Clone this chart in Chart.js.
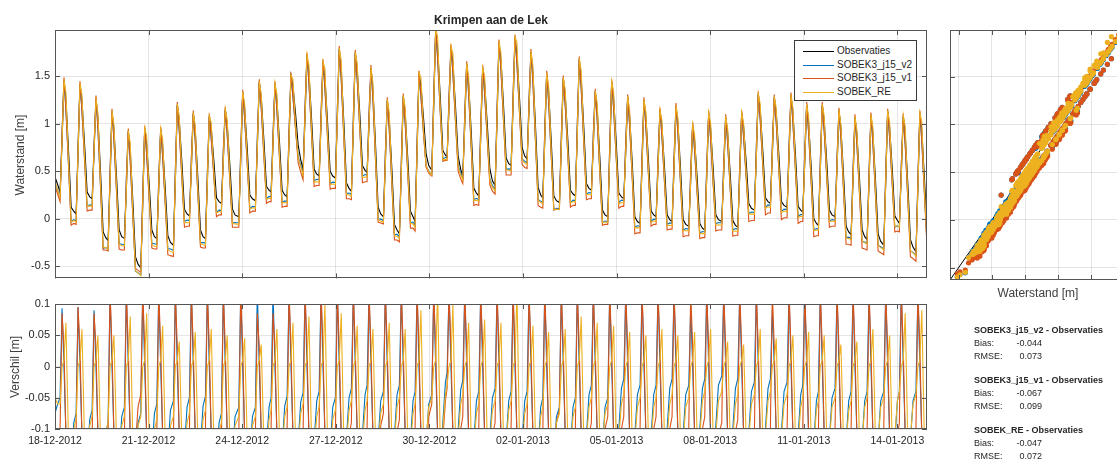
<!DOCTYPE html>
<html>
<head>
<meta charset="utf-8">
<script src="https://cdn.jsdelivr.net/npm/chart.js@4.4.1/dist/chart.umd.min.js"></script>
<style>
  html, body { margin: 0; padding: 0; background: #fff; }
  body { width: 1117px; height: 459px; overflow: hidden; position: relative; font-family: "Liberation Sans", Arial, sans-serif; color: #262626; }
  canvas { position: absolute; }
  #levelCanvas { left: 0; top: 0; }
  #diffCanvas { left: 0; top: 290px; }
  #scatterCanvas { left: 940px; top: 0; }
  .title { position: absolute; left: 55px; width: 872px; top: 13px; text-align: center; font-weight: bold; font-size: 12px; }
  .axlab { position: absolute; font-size: 12px; color: #404040; white-space: nowrap; transform: translate(-50%, -50%); }
  .axlab.rot { transform: translate(-50%, -50%) rotate(-90deg); }
  #legend { position: absolute; left: 794px; top: 40px; width: 121px; height: 59px; border: 1px solid #3a3a3a; background: #fff; font-size: 10px; }
  #legend .row { position: absolute; left: 0; height: 12px; line-height: 12px; width: 100%; }
  #legend .swatch { position: absolute; left: 8px; top: 6px; width: 31px; height: 1px; }
  #legend .lbl { position: absolute; left: 42px; top: 0; white-space: nowrap; }
  .stat { position: absolute; font-size: 9px; line-height: 10px; white-space: nowrap; }
  .stat.head { font-weight: bold; }
  .stat.val { text-align: right; width: 40px; }
</style>
</head>
<body>
<canvas id="levelCanvas" width="935" height="290" style="width:935px;height:290px"></canvas>
<canvas id="diffCanvas" width="935" height="169" style="width:935px;height:169px"></canvas>
<canvas id="scatterCanvas" width="190" height="290" style="width:190px;height:290px"></canvas>
<div class="title">Krimpen aan de Lek</div>
<div class="axlab rot" style="left:20px;top:155px">Waterstand [m]</div>
<div class="axlab rot" style="left:15px;top:367px">Verschil [m]</div>
<div class="axlab" style="left:1038px;top:293px">Waterstand [m]</div>
<div id="legend"></div>
<div id="stats"></div>
<script>
// time axis: days since 18-12-2012 00:00
const dayMax = 27.95;
const dateTickDays = [0, 3, 6, 9, 12, 15, 18, 21, 24, 27];
const dateLabels = ["18-12-2012", "21-12-2012", "24-12-2012", "27-12-2012", "30-12-2012",
  "02-01-2013", "05-01-2013", "08-01-2013", "11-01-2013", "14-01-2013"];
const levelMin = -0.63, levelMax = 1.99;
const levelTicks = [-0.5, 0, 0.5, 1, 1.5];
const diffTicks = [-0.1, -0.05, 0, 0.05, 0.1];

// one row per tide: high-water time (days), samples at these hours around it
const hourOffsets = [-3.0, -1.5, 0, 1.5, 3.5, 5.5, 7.5];
const peakDays = [-0.229, 0.288, 0.801, 1.314, 1.827, 2.349, 2.875, 3.388, 3.920, 4.433, 4.946,
  5.458, 6.016, 6.548, 7.051, 7.564, 8.077, 8.590, 9.112, 9.625, 10.128, 10.651, 11.163, 11.667,
  12.202, 12.692, 13.196, 13.708, 14.231, 14.744, 15.256, 15.760, 16.292, 16.804, 17.317, 17.843,
  18.356, 18.878, 19.391, 19.904, 20.439, 20.952, 21.497, 22.010, 22.542, 23.055, 23.590, 24.093,
  24.593, 25.128, 25.641, 26.154, 26.689, 27.189, 27.721];

// observed water level [m]
const obsLevels = [
  [0.30, 0.85, 1.40, 1.22, 0.80, 0.44, 0.36], [0.28, 0.81, 1.46, 1.26, 0.72, 0.12, 0.08],
  [0.05, 0.67, 1.42, 1.25, 0.79, 0.28, 0.23], [0.21, 0.69, 1.27, 1.06, 0.49, -0.14, -0.20],
  [-0.23, 0.38, 1.13, 0.94, 0.44, -0.12, -0.19], [-0.21, 0.30, 0.92, 0.72, 0.19, -0.40, -0.48],
  [-0.52, 0.14, 0.95, 0.79, 0.36, -0.12, -0.19], [-0.21, 0.31, 0.94, 0.77, 0.32, -0.18, -0.25],
  [-0.28, 0.39, 1.20, 1.04, 0.60, 0.10, 0.05], [0.03, 0.52, 1.11, 0.93, 0.43, -0.12, -0.19],
  [-0.21, 0.37, 1.08, 0.95, 0.61, 0.22, 0.18], [0.16, 0.61, 1.15, 0.99, 0.57, 0.10, 0.04],
  [0.02, 0.61, 1.33, 1.17, 0.74, 0.25, 0.21], [0.19, 0.75, 1.44, 1.28, 0.84, 0.34, 0.30],
  [0.28, 0.79, 1.42, 1.25, 0.80, 0.30, 0.25], [0.23, 0.81, 1.51, 1.40, 1.11, 0.78, 0.62],
  [0.52, 1.06, 1.72, 1.54, 1.06, 0.52, 0.47], [0.45, 0.99, 1.65, 1.48, 1.02, 0.50, 0.45],
  [0.43, 1.04, 1.79, 1.58, 1.02, 0.38, 0.32], [0.29, 0.95, 1.75, 1.57, 1.10, 0.56, 0.51],
  [0.49, 0.99, 1.59, 1.37, 0.78, 0.12, 0.05], [0.02, 0.57, 1.25, 1.05, 0.53, -0.06, -0.12],
  [-0.16, 0.49, 1.29, 1.11, 0.63, 0.08, 0.02], [-0.03, 0.67, 1.53, 1.40, 1.06, 0.68, 0.56],
  [0.51, 1.18, 1.99, 1.80, 1.29, 0.72, 0.67], [0.65, 1.17, 1.81, 1.64, 1.18, 0.66, 0.52],
  [0.45, 0.98, 1.63, 1.43, 0.91, 0.32, 0.27], [0.24, 0.85, 1.59, 1.43, 1.01, 0.53, 0.40],
  [0.35, 1.03, 1.86, 1.68, 1.19, 0.64, 0.58], [0.56, 1.17, 1.91, 1.74, 1.27, 0.75, 0.66],
  [0.63, 1.14, 1.76, 1.55, 0.97, 0.33, 0.25], [0.22, 0.81, 1.53, 1.34, 0.82, 0.24, 0.19],
  [0.17, 0.76, 1.48, 1.30, 0.83, 0.30, 0.26], [0.24, 0.89, 1.68, 1.48, 0.96, 0.37, 0.32],
  [0.30, 0.77, 1.34, 1.15, 0.65, 0.09, 0.04], [0.02, 0.66, 1.44, 1.27, 0.80, 0.27, 0.23],
  [0.21, 0.69, 1.28, 1.09, 0.59, 0.02, -0.03], [-0.05, 0.54, 1.25, 1.07, 0.61, 0.08, 0.04],
  [0.02, 0.52, 1.14, 0.98, 0.54, 0.04, -0.01], [-0.03, 0.52, 1.19, 1.01, 0.53, -0.01, -0.06],
  [-0.08, 0.40, 0.99, 0.83, 0.42, -0.05, -0.10], [-0.12, 0.43, 1.11, 0.95, 0.52, 0.04, -0.01],
  [-0.03, 0.47, 1.07, 0.91, 0.47, -0.02, -0.07], [-0.09, 0.45, 1.11, 0.97, 0.59, 0.16, 0.11],
  [0.09, 0.64, 1.31, 1.15, 0.71, 0.22, 0.18], [0.16, 0.66, 1.28, 1.12, 0.68, 0.18, 0.14],
  [0.12, 0.65, 1.30, 1.12, 0.66, 0.13, 0.09], [0.07, 0.58, 1.20, 1.02, 0.54, 0.00, -0.05],
  [-0.07, 0.50, 1.20, 1.03, 0.59, 0.09, 0.04], [0.02, 0.52, 1.14, 0.96, 0.47, -0.08, -0.14],
  [-0.17, 0.39, 1.07, 0.89, 0.42, -0.12, -0.19], [-0.22, 0.37, 1.09, 0.90, 0.40, -0.16, -0.24],
  [-0.28, 0.36, 1.13, 0.97, 0.53, 0.03, -0.02], [-0.05, 0.46, 1.08, 0.89, 0.37, -0.22, -0.30],
  [-0.35, 0.31, 1.11, 0.93, 0.43, -0.12, -0.20]
];

// model minus observation [m], same samples
const diffV2 = [
  [-0.05, 0.12, 0, -0.11, -0.15, -0.075, -0.06], [-0.05, 0.093, 0, -0.11, -0.15, -0.155, -0.09],
  [-0.075, 0.095, 0, -0.11, -0.15, -0.15, -0.085], [-0.07, 0.09, 0, -0.11, -0.15, -0.17, -0.105],
  [-0.09, 0.12, 0, -0.11, -0.15, -0.145, -0.08], [-0.065, 0.12, 0, -0.11, -0.15, -0.155, -0.09],
  [-0.075, 0.12, 0, -0.11, -0.15, -0.14, -0.075], [-0.06, 0.12, 0, -0.11, -0.15, -0.135, -0.07],
  [-0.055, 0.12, 0, -0.11, -0.15, -0.13, -0.065], [-0.05, 0.12, 0, -0.11, -0.15, -0.128, -0.063],
  [-0.048, 0.12, 0, -0.11, -0.15, -0.155, -0.09], [-0.075, 0.12, 0, -0.11, -0.15, -0.145, -0.08],
  [-0.065, 0.12, 0, -0.11, -0.15, -0.145, -0.08], [-0.065, 0.12, 0, -0.11, -0.15, -0.13, -0.065],
  [-0.05, 0.12, 0, -0.11, -0.15, -0.128, -0.063], [-0.048, 0.12, 0, -0.11, -0.15, -0.122, -0.057],
  [-0.042, 0.12, 0, -0.11, -0.15, -0.12, -0.055], [-0.04, 0.12, 0, -0.11, -0.15, -0.13, -0.065],
  [-0.05, 0.12, 0, -0.11, -0.15, -0.115, -0.05], [-0.035, 0.12, 0, -0.11, -0.15, -0.11, -0.045],
  [-0.03, 0.12, 0, -0.11, -0.15, -0.12, -0.055], [-0.04, 0.12, 0, -0.11, -0.15, -0.11, -0.045],
  [-0.03, 0.12, 0, -0.11, -0.15, -0.12, -0.055], [-0.04, 0.12, 0, -0.11, -0.15, -0.125, -0.06],
  [-0.045, 0.12, 0, -0.11, -0.15, -0.09, -0.025], [-0.01, 0.12, 0, -0.11, -0.15, -0.102, -0.037],
  [-0.022, 0.12, 0, -0.11, -0.15, -0.12, -0.055], [-0.04, 0.12, 0, -0.11, -0.15, -0.115, -0.05],
  [-0.035, 0.12, 0, -0.11, -0.15, -0.12, -0.055], [-0.04, 0.12, 0, -0.11, -0.15, -0.12, -0.055],
  [-0.04, 0.12, 0, -0.11, -0.15, -0.13, -0.065], [-0.05, 0.12, 0, -0.11, -0.15, -0.145, -0.08],
  [-0.065, 0.12, 0, -0.11, -0.15, -0.13, -0.065], [-0.05, 0.12, 0, -0.11, -0.15, -0.11, -0.045],
  [-0.03, 0.12, 0, -0.11, -0.15, -0.13, -0.065], [-0.05, 0.12, 0, -0.11, -0.15, -0.10, -0.035],
  [-0.02, 0.12, 0, -0.11, -0.15, -0.11, -0.045], [-0.03, 0.12, 0, -0.11, -0.15, -0.11, -0.045],
  [-0.03, 0.12, 0, -0.11, -0.15, -0.10, -0.035], [-0.02, 0.12, 0, -0.11, -0.15, -0.11, -0.045],
  [-0.03, 0.095, 0, -0.11, -0.15, -0.10, -0.035], [-0.02, 0.12, 0, -0.11, -0.15, -0.095, -0.03],
  [-0.015, 0.12, 0, -0.11, -0.15, -0.10, -0.035], [-0.02, 0.12, 0, -0.11, -0.15, -0.105, -0.04],
  [-0.025, 0.12, 0, -0.11, -0.15, -0.10, -0.035], [-0.02, 0.09, 0, -0.11, -0.15, -0.105, -0.04],
  [-0.025, 0.12, 0, -0.11, -0.15, -0.11, -0.045], [-0.03, 0.12, 0, -0.11, -0.15, -0.12, -0.055],
  [-0.04, 0.12, 0, -0.11, -0.15, -0.115, -0.05], [-0.035, 0.12, 0, -0.11, -0.15, -0.12, -0.055],
  [-0.04, 0.12, 0, -0.11, -0.15, -0.12, -0.055], [-0.04, 0.12, 0, -0.11, -0.15, -0.12, -0.055],
  [-0.04, 0.12, 0, -0.11, -0.15, -0.12, -0.055], [-0.04, 0.12, 0, -0.11, -0.15, -0.12, -0.055],
  [-0.04, 0.12, 0, -0.11, -0.15, -0.13, -0.065]
];
const diffV1 = [
  [-0.10, 0.12, 0.03, -0.11, -0.17, -0.10, -0.10], [-0.10, 0.085, 0.03, -0.11, -0.17, -0.19, -0.13],
  [-0.11, 0.095, 0.03, -0.11, -0.17, -0.20, -0.14], [-0.12, 0.085, 0.03, -0.11, -0.17, -0.19, -0.13],
  [-0.11, 0.12, 0.03, -0.11, -0.17, -0.20, -0.14], [-0.12, 0.12, 0.03, -0.11, -0.17, -0.125, -0.065],
  [-0.045, 0.12, 0.03, -0.11, -0.17, -0.19, -0.13], [-0.11, 0.12, 0.03, -0.11, -0.17, -0.20, -0.14],
  [-0.12, 0.12, 0.03, -0.11, -0.17, -0.19, -0.13], [-0.11, 0.12, 0.03, -0.11, -0.17, -0.18, -0.12],
  [-0.10, 0.12, 0.03, -0.11, -0.17, -0.20, -0.14], [-0.12, 0.12, 0.03, -0.11, -0.17, -0.19, -0.13],
  [-0.11, 0.12, 0.03, -0.11, -0.17, -0.19, -0.13], [-0.11, 0.085, 0.03, -0.11, -0.17, -0.18, -0.12],
  [-0.10, 0.085, 0.03, -0.11, -0.17, -0.18, -0.12], [-0.10, 0.12, 0.03, -0.11, -0.17, -0.19, -0.13],
  [-0.11, 0.12, 0.03, -0.11, -0.17, -0.18, -0.12], [-0.10, 0.12, 0.03, -0.11, -0.17, -0.19, -0.13],
  [-0.11, 0.12, 0.03, -0.11, -0.17, -0.17, -0.11], [-0.09, 0.12, 0.03, -0.11, -0.17, -0.18, -0.12],
  [-0.10, 0.12, 0.03, -0.11, -0.17, -0.155, -0.095], [-0.075, 0.12, 0.03, -0.11, -0.17, -0.165, -0.105],
  [-0.085, 0.12, 0.03, -0.11, -0.17, -0.18, -0.12], [-0.10, 0.12, 0.03, -0.11, -0.17, -0.14, -0.08],
  [-0.06, 0.12, 0.03, -0.11, -0.17, -0.115, -0.055], [-0.035, 0.12, 0.03, -0.11, -0.17, -0.16, -0.10],
  [-0.08, 0.12, 0.03, -0.11, -0.17, -0.18, -0.12], [-0.10, 0.12, 0.03, -0.11, -0.17, -0.17, -0.11],
  [-0.09, 0.12, 0.03, -0.11, -0.17, -0.18, -0.12], [-0.10, 0.12, 0.03, -0.11, -0.17, -0.18, -0.12],
  [-0.10, 0.12, 0.03, -0.11, -0.17, -0.19, -0.13], [-0.11, 0.12, 0.03, -0.11, -0.17, -0.15, -0.09],
  [-0.07, 0.12, 0.03, -0.11, -0.17, -0.18, -0.12], [-0.10, 0.12, 0.03, -0.11, -0.17, -0.17, -0.11],
  [-0.09, 0.12, 0.03, -0.11, -0.17, -0.16, -0.10], [-0.08, 0.12, 0.03, -0.11, -0.17, -0.16, -0.10],
  [-0.08, 0.12, 0.03, -0.11, -0.17, -0.18, -0.12], [-0.10, 0.12, 0.03, -0.11, -0.17, -0.16, -0.10],
  [-0.08, 0.12, 0.03, -0.11, -0.17, -0.16, -0.10], [-0.08, 0.12, 0.03, -0.11, -0.17, -0.18, -0.12],
  [-0.10, 0.12, 0.03, -0.11, -0.17, -0.16, -0.10], [-0.08, 0.12, 0.03, -0.11, -0.17, -0.17, -0.11],
  [-0.09, 0.12, 0.03, -0.11, -0.17, -0.165, -0.105], [-0.085, 0.12, 0.03, -0.11, -0.17, -0.19, -0.13],
  [-0.11, 0.12, 0.03, -0.11, -0.17, -0.18, -0.12], [-0.10, 0.12, 0.03, -0.11, -0.17, -0.19, -0.13],
  [-0.11, 0.12, 0.03, -0.11, -0.17, -0.18, -0.12], [-0.10, 0.12, 0.03, -0.11, -0.17, -0.19, -0.13],
  [-0.11, 0.12, 0.03, -0.11, -0.17, -0.18, -0.12], [-0.10, 0.12, 0.03, -0.11, -0.17, -0.19, -0.13],
  [-0.11, 0.12, 0.03, -0.11, -0.17, -0.19, -0.13], [-0.11, 0.12, 0.03, -0.11, -0.17, -0.18, -0.12],
  [-0.10, 0.12, 0.03, -0.11, -0.17, -0.17, -0.11], [-0.09, 0.12, 0.03, -0.11, -0.17, -0.18, -0.12],
  [-0.10, 0.12, 0.03, -0.11, -0.17, -0.18, -0.12]
];
const diffRE = [
  [-0.06, 0, 0.01, 0.07, -0.12, -0.05, -0.06], [-0.06, 0, 0.01, 0.07, -0.12, -0.155, -0.10],
  [-0.085, 0, 0.01, 0.06, -0.12, -0.15, -0.095], [-0.08, 0, 0.01, 0.05, -0.12, -0.16, -0.105],
  [-0.09, 0, 0.01, 0.05, -0.12, -0.15, -0.095], [-0.08, 0, 0.01, 0.08, -0.12, -0.15, -0.095],
  [-0.08, 0, 0.01, 0.085, -0.12, -0.155, -0.10], [-0.085, 0, 0.01, 0.065, -0.12, -0.15, -0.095],
  [-0.08, 0, 0.01, 0.04, -0.12, -0.145, -0.09], [-0.075, 0, 0.01, 0.055, -0.12, -0.14, -0.085],
  [-0.07, 0, 0.01, 0.06, -0.12, -0.16, -0.105], [-0.09, 0, 0.01, 0.05, -0.12, -0.15, -0.095],
  [-0.08, 0, 0.01, 0.045, -0.12, -0.15, -0.095], [-0.08, 0, 0.01, 0.035, -0.12, -0.14, -0.085],
  [-0.07, 0, 0.01, 0.06, -0.12, -0.135, -0.08], [-0.065, 0, 0.01, 0.07, -0.12, -0.13, -0.075],
  [-0.06, 0, 0.01, 0.08, -0.12, -0.135, -0.08], [-0.065, 0, 0.01, 0.10, -0.12, -0.14, -0.085],
  [-0.07, 0, 0.01, 0.085, -0.12, -0.125, -0.07], [-0.055, 0, 0.01, 0.065, -0.12, -0.125, -0.07],
  [-0.055, 0, 0.01, 0.06, -0.12, -0.13, -0.075], [-0.06, 0, 0.01, 0.07, -0.12, -0.12, -0.065],
  [-0.05, 0, 0.01, 0.06, -0.12, -0.13, -0.075], [-0.06, 0, 0.01, 0.09, -0.12, -0.12, -0.065],
  [-0.05, 0, 0.01, 0.12, -0.12, -0.10, -0.045], [-0.03, 0, 0.01, 0.10, -0.12, -0.115, -0.06],
  [-0.045, 0, 0.01, 0.07, -0.12, -0.13, -0.075], [-0.06, 0, 0.01, 0.075, -0.12, -0.125, -0.07],
  [-0.055, 0, 0.01, 0.07, -0.12, -0.125, -0.07], [-0.055, 0, 0.01, 0.12, -0.12, -0.13, -0.075],
  [-0.06, 0, 0.01, 0.065, -0.12, -0.135, -0.08], [-0.065, 0, 0.01, 0.055, -0.12, -0.145, -0.09],
  [-0.075, 0, 0.01, 0.06, -0.12, -0.135, -0.08], [-0.065, 0, 0.01, 0.08, -0.12, -0.12, -0.065],
  [-0.05, 0, 0.01, 0.07, -0.12, -0.13, -0.075], [-0.06, 0, 0.01, 0.065, -0.12, -0.115, -0.06],
  [-0.045, 0, 0.01, 0.055, -0.12, -0.12, -0.065], [-0.05, 0, 0.01, 0.05, -0.12, -0.12, -0.065],
  [-0.05, 0, 0.01, 0.06, -0.12, -0.115, -0.06], [-0.045, 0, 0.01, 0.05, -0.12, -0.12, -0.065],
  [-0.05, 0, 0.01, 0.055, -0.12, -0.11, -0.055], [-0.04, 0, 0.01, 0.06, -0.12, -0.11, -0.055],
  [-0.04, 0, 0.01, 0.04, -0.12, -0.115, -0.06], [-0.045, 0, 0.01, 0.035, -0.12, -0.115, -0.06],
  [-0.045, 0, 0.01, 0.06, -0.12, -0.11, -0.055], [-0.04, 0, 0.01, 0.045, -0.12, -0.115, -0.06],
  [-0.045, 0, 0.01, 0.05, -0.12, -0.12, -0.065], [-0.05, 0, 0.01, 0.055, -0.12, -0.125, -0.07],
  [-0.055, 0, 0.01, 0.05, -0.12, -0.12, -0.065], [-0.05, 0, 0.01, 0.035, -0.12, -0.125, -0.07],
  [-0.055, 0, 0.01, 0.04, -0.12, -0.12, -0.065], [-0.05, 0, 0.01, 0.06, -0.12, -0.12, -0.065],
  [-0.05, 0, 0.01, 0.05, -0.12, -0.11, -0.055], [-0.04, 0, 0.01, 0.085, -0.12, -0.115, -0.06],
  [-0.045, 0, 0.01, 0.09, -0.12, -0.12, -0.065]
];

const obsName = "Observaties";
const modelNames = ["SOBEK3_j15_v2", "SOBEK3_j15_v1", "SOBEK_RE"];
const biasValues = ["-0.044", "-0.067", "-0.047"];
const rmseValues = ["0.073", "0.099", "0.072"];

const OBS_COLOR = "#000000";
const MODEL_COLORS = ["#0072BD", "#D95319", "#EDB120"];
const GRID_COLOR = "rgba(38,38,38,0.12)";
const AXIS_COLOR = "#555555";
const TEXT_COLOR = "#262626";

const models = [
  { name: modelNames[0], diff: diffV2, color: MODEL_COLORS[0], order: 3 },
  { name: modelNames[1], diff: diffV1, color: MODEL_COLORS[1], order: 2 },
  { name: modelNames[2], diff: diffRE, color: MODEL_COLORS[2], order: 1 },
];

function eachSample(fn) {
  const out = [];
  peakDays.forEach((p, i) => hourOffsets.forEach((h, k) => out.push(fn(p + h / 24, i, k))));
  return out;
}
const obsPoints = eachSample((t, i, k) => ({ x: t, y: obsLevels[i][k] }));
const modelPoints = (d) => eachSample((t, i, k) => ({ x: t, y: obsLevels[i][k] + d[i][k] }));
const diffPoints = (d) => eachSample((t, i, k) => ({ x: t, y: d[i][k] }));
const scatterPoints = (d) => eachSample((t, i, k) => ({ x: obsLevels[i][k], y: obsLevels[i][k] + d[i][k] }));

Chart.defaults.font.family = "'Liberation Sans', Arial, sans-serif";
Chart.defaults.color = TEXT_COLOR;

// box with inward tick marks on all four sides
const boxTicks = {
  id: "boxTicks",
  afterDraw(chart) {
    const { ctx, chartArea: a, scales } = chart;
    const len = 5;
    ctx.save();
    ctx.strokeStyle = AXIS_COLOR;
    ctx.lineWidth = 1;
    ctx.beginPath();
    scales.x.ticks.forEach((t) => {
      const px = Math.round(scales.x.getPixelForValue(t.value)) + 0.5;
      ctx.moveTo(px, a.top); ctx.lineTo(px, a.top + len);
      ctx.moveTo(px, a.bottom); ctx.lineTo(px, a.bottom - len);
    });
    scales.y.ticks.forEach((t) => {
      const py = Math.round(scales.y.getPixelForValue(t.value)) + 0.5;
      ctx.moveTo(a.left, py); ctx.lineTo(a.left + len, py);
      ctx.moveTo(a.right, py); ctx.lineTo(a.right - len, py);
    });
    ctx.stroke();
    ctx.strokeRect(Math.round(a.left) + 0.5, Math.round(a.top) + 0.5,
      Math.round(a.right - a.left) - 1, Math.round(a.bottom - a.top) - 1);
    ctx.restore();
  },
};

const fixedTicks = (values) => (scale) => { scale.ticks = values.map((v) => ({ value: v })); };

function baseOptions(scales, padding) {
  return {
    responsive: false,
    animation: false,
    events: [],
    layout: { padding },
    plugins: { legend: { display: false }, tooltip: { enabled: false } },
    scales,
  };
}

function timeAxis(showLabels, height) {
  return {
    type: "linear", min: 0, max: dayMax,
    afterBuildTicks: fixedTicks(dateTickDays),
    afterFit: (s) => { s.height = height; },
    grid: { color: GRID_COLOR, drawTicks: false },
    border: { display: false },
    ticks: { display: showLabels, autoSkip: false, maxRotation: 0, padding: 6,
      font: { size: 10.5 }, color: TEXT_COLOR, callback: (v, i) => dateLabels[i] },
  };
}

function valueAxis(min, max, ticks, showLabels, width) {
  return {
    type: "linear", min, max,
    afterBuildTicks: fixedTicks(ticks),
    afterFit: (s) => { s.width = width; },
    grid: { color: GRID_COLOR, drawTicks: false },
    border: { display: false },
    ticks: { display: showLabels, padding: 5, font: { size: 11 }, color: TEXT_COLOR, callback: (v) => String(v) },
  };
}

const lineStyle = { borderWidth: 1.1, pointRadius: 0, fill: false, tension: 0 };

// water levels
new Chart(document.getElementById("levelCanvas"), {
  type: "line",
  data: {
    datasets: [
      { label: obsName, data: obsPoints, borderColor: OBS_COLOR, order: 4, ...lineStyle },
      ...models.map((m) => ({ label: m.name, data: modelPoints(m.diff), borderColor: m.color, order: m.order, ...lineStyle })),
    ],
  },
  options: baseOptions({
    x: timeAxis(false, 10),
    y: valueAxis(levelMin, levelMax, levelTicks, true, 55),
  }, { top: 30, right: 8, left: 0, bottom: 0 }),
  plugins: [boxTicks],
});

// differences
new Chart(document.getElementById("diffCanvas"), {
  type: "line",
  data: {
    datasets: models.map((m) => ({ label: m.name, data: diffPoints(m.diff), borderColor: m.color, order: m.order, ...lineStyle })),
  },
  options: baseOptions({
    x: timeAxis(true, 30),
    y: valueAxis(-0.1, 0.1, diffTicks, true, 55),
  }, { top: 14, right: 8, left: 0, bottom: 0 }),
  plugins: [boxTicks],
});

// model vs observation
new Chart(document.getElementById("scatterCanvas"), {
  type: "scatter",
  data: {
    datasets: [
      { type: "line", data: [{ x: levelMin, y: levelMin }, { x: levelMax, y: levelMax }],
        borderColor: OBS_COLOR, borderWidth: 1, pointRadius: 0, order: 4 },
      ...models.map((m) => ({ data: scatterPoints(m.diff), backgroundColor: m.color, borderWidth: 0,
        pointRadius: 2.6, order: m.order })),
    ],
  },
  options: baseOptions({
    x: { ...valueAxis(levelMin, levelMax, levelTicks, false, 0), afterFit: (s) => { s.height = 10; } },
    y: valueAxis(levelMin, levelMax, levelTicks, false, 10),
  }, { top: 30, right: 6, left: 0, bottom: 0 }),
  plugins: [boxTicks],
});

// legend
const legend = document.getElementById("legend");
[[obsName, OBS_COLOR], ...models.map((m) => [m.name, m.color])].forEach(([name, color], i) => {
  const row = document.createElement("div");
  row.className = "row";
  row.style.top = (4 + i * 13.7) + "px";
  row.innerHTML = `<span class="swatch" style="background:${color}"></span><span class="lbl">${name}</span>`;
  legend.appendChild(row);
});

// statistics block
const stats = document.getElementById("stats");
modelNames.forEach((name, i) => {
  const y0 = 325 + i * 50;
  stats.insertAdjacentHTML("beforeend",
    `<div class="stat head" style="left:974px;top:${y0}px">${name} - ${obsName}</div>` +
    `<div class="stat" style="left:974px;top:${y0 + 13}px">Bias:</div>` +
    `<div class="stat val" style="left:1002px;top:${y0 + 13}px">${biasValues[i]}</div>` +
    `<div class="stat" style="left:974px;top:${y0 + 26}px">RMSE:</div>` +
    `<div class="stat val" style="left:1002px;top:${y0 + 26}px">${rmseValues[i]}</div>`);
});
</script>
</body>
</html>
